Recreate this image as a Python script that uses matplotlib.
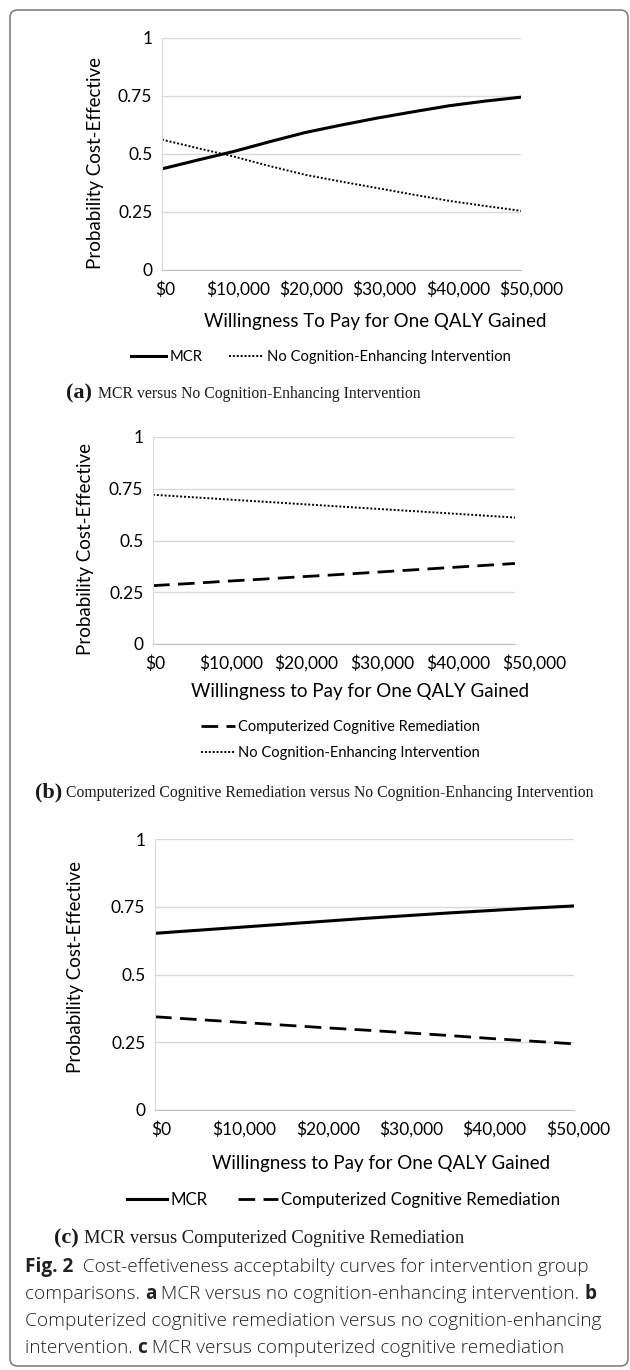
import numpy as np
import matplotlib
matplotlib.use('Agg')
import matplotlib.pyplot as plt
from matplotlib.patches import FancyBboxPatch
from matplotlib.lines import Line2D
from matplotlib.transforms import ScaledTranslation

# willingness to pay values (x) and probabilities
wtp = [0, 5000, 10000, 15000, 20000, 25000, 30000, 35000, 40000, 45000, 50000]
xtick_vals = [0, 10000, 20000, 30000, 40000, 50000]
xtick_labels = ['$0', '$10,000', '$20,000', '$30,000', '$40,000', '$50,000']
ytick_vals = [0, 0.25, 0.5, 0.75, 1]
ytick_labels = ['0', '0.25', '0.5', '0.75', '1']

a_mcr = [0.436, 0.474, 0.511, 0.553, 0.593, 0.625, 0.655, 0.682, 0.708, 0.728, 0.745]
a_none = [0.562, 0.525, 0.489, 0.448, 0.410, 0.381, 0.353, 0.325, 0.298, 0.276, 0.255]
b_ccr = [0.282, 0.292, 0.303, 0.313, 0.324, 0.334, 0.345, 0.356, 0.367, 0.378, 0.389]
b_none = [0.721, 0.710, 0.699, 0.688, 0.677, 0.666, 0.655, 0.644, 0.633, 0.622, 0.611]
c_mcr = [0.652, 0.663, 0.674, 0.685, 0.696, 0.707, 0.717, 0.727, 0.736, 0.745, 0.753]
c_ccr = [0.344, 0.334, 0.324, 0.314, 0.304, 0.295, 0.285, 0.275, 0.264, 0.254, 0.244]

CHART_FONT = ['Lato', 'DejaVu Sans']
SERIF = ['Liberation Serif', 'DejaVu Serif']
CAP_FONT = ['Open Sans', 'DejaVu Sans']

W, H = 630, 1370
fig = plt.figure(figsize=(W / 100, H / 100), dpi=100)

# rounded frame around the whole figure
frame = FancyBboxPatch((10 / W, 4 / H), 618 / W, 1356 / H,
                       boxstyle='round,pad=0,rounding_size=0.012',
                       transform=fig.transFigure, fill=False,
                       edgecolor='#808080', linewidth=1.2, mutation_aspect=W / H)
fig.patches.append(frame)

SOLID = dict(color='black', linewidth=2.2, linestyle='-')
DOT = dict(color='black', linewidth=1.4, linestyle=(0, (1, 1)))
DASH = dict(color='black', linewidth=2.0, linestyle=(0, (6, 3)))


def setup_axes(rect, xlabel, xlabel_pos, ylabel_pos, lab_shift):
    ax = fig.add_axes([rect[0] / W, 1 - rect[1] / H, rect[2] / W, rect[3] / H])
    ax.set_xlim(0, 50000)
    ax.set_ylim(0, 1)
    ax.set_yticks(ytick_vals)
    ax.set_yticklabels(ytick_labels, fontfamily=CHART_FONT, fontsize=12.5)
    ax.set_xticks(xtick_vals)
    ax.set_xticklabels(xtick_labels, fontfamily=CHART_FONT, fontsize=12.5)
    ax.tick_params(axis='y', length=0, pad=7)
    ax.tick_params(axis='x', length=0, pad=8)
    # Excel spreads the category labels a little wider than the plot
    n = len(xtick_labels)
    for i, lab in enumerate(ax.get_xticklabels()):
        dx = lab_shift[0] + (lab_shift[1] - lab_shift[0]) * i / (n - 1)
        lab.set_transform(lab.get_transform() + ScaledTranslation(dx / 100, 0, fig.dpi_scale_trans))
    ax.grid(axis='y', color='#d9d9d9', linewidth=1)
    ax.set_axisbelow(True)
    for s in ['top', 'right']:
        ax.spines[s].set_visible(False)
    ax.spines['left'].set_color('#d9d9d9')
    ax.spines['bottom'].set_color('#bfbfbf')
    fig.text(xlabel_pos[0] / W, 1 - xlabel_pos[1] / H, xlabel, ha='center', va='center',
             fontfamily=CHART_FONT, fontsize=13.5)
    fig.text(ylabel_pos[0] / W, 1 - ylabel_pos[1] / H, 'Probability Cost-Effective',
             rotation=90, ha='center', va='center', fontfamily=CHART_FONT, fontsize=13.5)
    return ax


def mixed_line(x, y, pieces, family, color='#1a1a1a', weight='normal'):
    # pieces: list of (text, bold, size, extra gap after in px)
    r = fig.canvas.get_renderer()
    for text, bold, size, gap in pieces:
        t = fig.text(x / W, 1 - y / H, text, ha='left', va='baseline',
                     fontfamily=family, fontsize=size,
                     fontweight='bold' if bold else weight, color=color)
        bb = t.get_window_extent(renderer=r)
        x += bb.width + gap


# (a)
ax1 = setup_axes([162, 270, 359, 232], 'Willingness To Pay for One QALY Gained',
                 (375, 322), (95, 163), (3, 10))
ax1.plot(wtp, a_mcr, **SOLID)
ax1.plot(wtp, a_none, **DOT)
h = [Line2D([], [], **SOLID), Line2D([], [], **DOT)]
fig.legend(h, ['MCR', 'No Cognition-Enhancing Intervention'], loc='center',
           bbox_to_anchor=(321 / W, 1 - 357 / H), ncol=2, frameon=False,
           prop={'family': CHART_FONT, 'size': 10.6}, handlelength=2.4,
           handletextpad=0.2, columnspacing=1.8)
mixed_line(66, 398, [('(a)', True, 16, 6), ('MCR versus No Cognition-Enhancing Intervention', False, 11.35, 0)],
           SERIF)

# (b)
ax2 = setup_axes([153, 644, 362, 207], 'Willingness to Pay for One QALY Gained',
                 (360, 691), (86, 549), (2, 19))
ax2.plot(wtp, b_ccr, **DASH)
ax2.plot(wtp, b_none, **DOT)
h = [Line2D([], [], **DASH), Line2D([], [], **DOT)]
fig.legend(h, ['Computerized Cognitive Remediation', 'No Cognition-Enhancing Intervention'],
           loc='center left', bbox_to_anchor=(188 / W, 1 - 740 / H), ncol=1, frameon=False,
           prop={'family': CHART_FONT, 'size': 10.5}, handlelength=2.3,
           handletextpad=0.2, labelspacing=0.85)
mixed_line(35, 797, [('(b)', True, 16, 4),
                     ('Computerized Cognitive Remediation versus No Cognition-Enhancing Intervention', False, 11.35, 0)],
           SERIF)

# (c)
ax3 = setup_axes([155, 1110, 419, 271], 'Willingness to Pay for One QALY Gained',
                 (381, 1164), (76, 967), (6, 4))
ax3.plot(wtp, c_mcr, **SOLID)
ax3.plot(wtp, c_ccr, **DASH)
h = [Line2D([], [], **SOLID), Line2D([], [], **DASH)]
fig.legend(h, ['MCR', 'Computerized Cognitive Remediation'], loc='center',
           bbox_to_anchor=(344 / W, 1 - 1200 / H), ncol=2, frameon=False,
           prop={'family': CHART_FONT, 'size': 12.2}, handlelength=2.35,
           handletextpad=0.2, columnspacing=1.8)
mixed_line(54, 1243, [('(c)', True, 16, 5), ('MCR versus Computerized Cognitive Remediation', False, 13.3, 0)],
           SERIF)

# figure caption
cs = 13.7
cap = [
    [('Fig. 2', True, cs, 0), ('  Cost-effetiveness acceptabilty curves for intervention group', False, cs, 0)],
    [('comparisons. ', False, cs, 0), ('a', True, cs, 0),
     (' MCR versus no cognition-enhancing intervention. ', False, cs, 0), ('b', True, cs, 0)],
    [('Computerized cognitive remediation versus no cognition-enhancing', False, cs, 0)],
    [('intervention. ', False, cs, 0), ('c', True, cs, 0),
     (' MCR versus computerized cognitive remediation', False, cs, 0)],
]
for i, line in enumerate(cap):
    mixed_line(25, 1272 + i * 27, line, CAP_FONT, color='#222222', weight='light')

fig.savefig('out.png', dpi=100)
